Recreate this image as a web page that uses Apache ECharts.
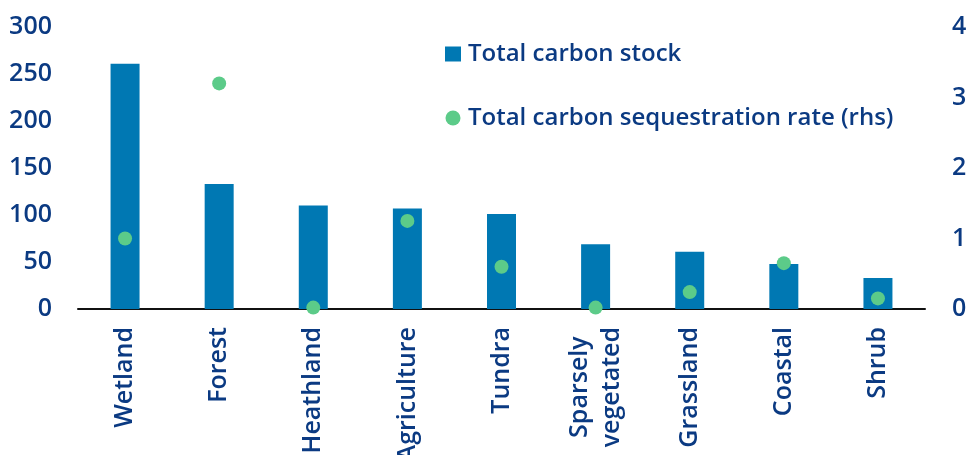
<!DOCTYPE html>
<html>
<head>
<meta charset="utf-8">
<script src="https://cdn.jsdelivr.net/npm/echarts@6/dist/echarts.min.js"></script>
<style>
  html, body { margin: 0; padding: 0; background: #ffffff; }
  #chart { width: 966px; height: 455px; }
</style>
</head>
<body>
<div id="chart"></div>
<script>
// Ecosystem categories, sorted by carbon stock
const categories = ['Wetland', 'Forest', 'Heathland', 'Agriculture', 'Tundra',
  'Sparsely\nvegetated', 'Grassland', 'Coastal', 'Shrub'];
// Total carbon stock (left axis)
const carbonStock = [261, 133, 110, 107, 101, 69, 61, 48, 33];
// Total carbon sequestration rate (right axis)
const sequestrationRate = [1.0, 3.2, 0.02, 1.25, 0.6, 0.02, 0.24, 0.65, 0.15];
// Axis tick settings
const leftTicks = { min: 0, max: 300, interval: 50 };
const rightTicks = { min: 0, max: 4, interval: 1 };

const NAVY = '#0b3a82';
const BLUE = '#0078b3';
const GREEN = '#5ccb89';
const FONT = '"Open Sans", "Noto Sans", sans-serif';
const WEIGHT = 600;

const chart = echarts.init(document.getElementById('chart'), null, { renderer: 'canvas' });

chart.setOption({
  animation: false,
  backgroundColor: '#ffffff',
  textStyle: { fontFamily: FONT },
  grid: { left: 78, right: 41, top: 27, bottom: 146, containLabel: false, outerBoundsMode: 'none' },
  legend: {
    orient: 'vertical',
    left: 445,
    top: 42,
    padding: 0,
    itemGap: 40,
    itemWidth: 16,
    itemHeight: 15,
    textStyle: { color: NAVY, fontSize: 24, lineHeight: 24, fontFamily: FONT, fontWeight: WEIGHT, padding: [0, 0, 0, 2] },
    data: [
      { name: 'Total carbon stock', icon: 'rect' },
      { name: 'Total carbon sequestration rate (rhs)', icon: 'circle' }
    ]
  },
  xAxis: {
    type: 'category',
    data: categories,
    axisLine: { show: true, lineStyle: { color: '#111111', width: 2 } },
    axisTick: { show: false },
    axisLabel: {
      rotate: 90,
      margin: 18,
      interval: 0,
      color: NAVY,
      fontSize: 25,
      fontWeight: WEIGHT,
      fontFamily: FONT,
      formatter: function (v) {
        return v.split('\n').map(function (s) { return '{c|' + s + '}'; }).join('\n');
      },
      rich: { c: { align: 'center', color: NAVY, fontSize: 25, lineHeight: 32, fontWeight: WEIGHT, fontFamily: FONT } }
    }
  },
  yAxis: [
    {
      type: 'value',
      min: leftTicks.min, max: leftTicks.max, interval: leftTicks.interval,
      axisLine: { show: false }, axisTick: { show: false }, splitLine: { show: false },
      axisLabel: { color: NAVY, fontSize: 25, fontWeight: WEIGHT, fontFamily: FONT, margin: 26 }
    },
    {
      type: 'value',
      min: rightTicks.min, max: rightTicks.max, interval: rightTicks.interval,
      axisLine: { show: false }, axisTick: { show: false }, splitLine: { show: false },
      axisLabel: { color: NAVY, fontSize: 25, fontWeight: WEIGHT, fontFamily: FONT, margin: 27 }
    }
  ],
  series: [
    {
      name: 'Total carbon stock',
      type: 'bar',
      yAxisIndex: 0,
      data: carbonStock,
      barWidth: 29,
      itemStyle: { color: BLUE },
      z: 2
    },
    {
      name: 'Total carbon sequestration rate (rhs)',
      type: 'scatter',
      yAxisIndex: 1,
      data: sequestrationRate,
      symbol: 'circle',
      symbolSize: 14,
      itemStyle: { color: GREEN, opacity: 1 },
      z: 3
    }
  ]
});
</script>
</body>
</html>
